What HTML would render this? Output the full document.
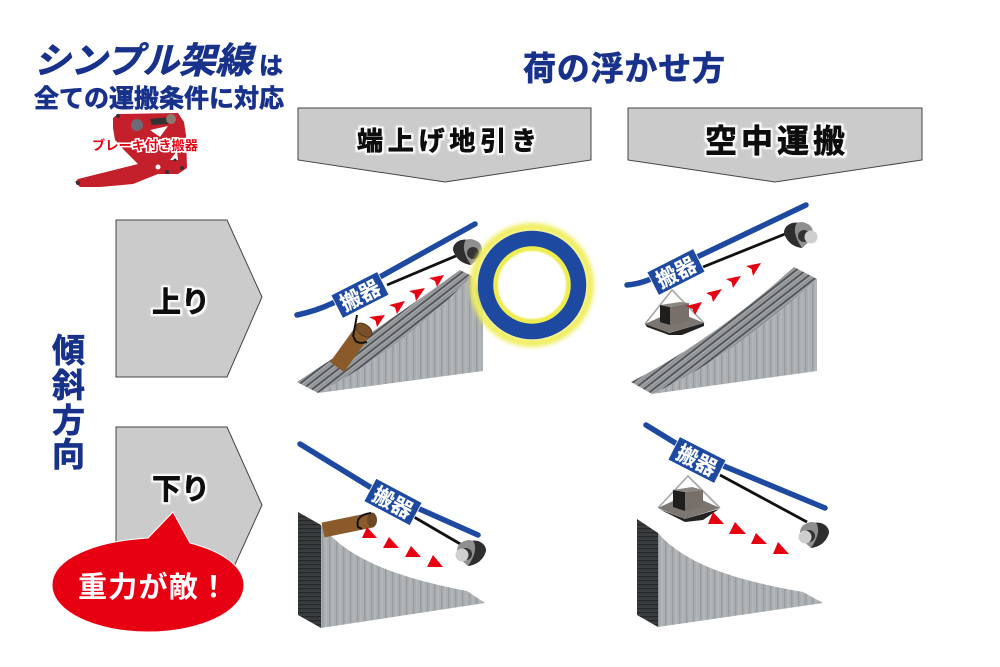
<!DOCTYPE html>
<html lang="ja">
<head>
<meta charset="utf-8">
<style>
html,body{margin:0;padding:0;background:#fff;width:1000px;height:667px;overflow:hidden}
svg{display:block}
text{font-family:"Liberation Sans","Noto Sans CJK JP",sans-serif;font-weight:700}
.navy{fill:#18328c;stroke:#18328c;stroke-width:.7}
.blk{fill:#0c0c0c;stroke:#0c0c0c;stroke-width:.9;filter:url(#halo)}
.car{fill:#fff;stroke:#fff;stroke-width:.2}
</style>
</head>
<body>
<svg width="1000" height="667" viewBox="0 0 1000 667" xmlns="http://www.w3.org/2000/svg">
<defs>
<pattern id="faceA" width="5" height="6" patternUnits="userSpaceOnUse" patternTransform="rotate(-38)">
<rect width="5" height="6" fill="#a2a5a8"/>
<rect y="0" width="5" height="2" fill="#55585a"/>
<rect y="3.8" width="5" height="1" fill="#85888a"/>
</pattern>
<pattern id="sideA" width="7" height="10" patternUnits="userSpaceOnUse">
<rect width="7" height="10" fill="#abafb1"/>
<rect x="0" width="1.3" height="10" fill="#989c9e"/>
<rect x="3.5" width="1" height="10" fill="#b8bcbe"/>
</pattern>
<pattern id="dark" width="8" height="4" patternUnits="userSpaceOnUse">
<rect width="8" height="4" fill="#3a3d3e"/>
<rect y="0" width="8" height="1.3" fill="#25282a"/>
</pattern>
<filter id="glow" x="-30%" y="-30%" width="160%" height="160%"><feGaussianBlur stdDeviation="2.2"/></filter>
<filter id="soft" x="-10%" y="-10%" width="120%" height="120%"><feGaussianBlur stdDeviation="0.8"/></filter>
<filter id="halo" x="-15%" y="-25%" width="130%" height="150%">
<feMorphology in="SourceAlpha" operator="dilate" radius="2" result="d"/>
<feGaussianBlur in="d" stdDeviation="0.7" result="b"/>
<feFlood flood-color="#fff"/>
<feComposite in2="b" operator="in" result="w"/>
<feMerge><feMergeNode in="w"/><feMergeNode in="SourceGraphic"/></feMerge>
</filter>
<g id="winch">
<path d="M-13,-2 Q-13,-9 -5,-12 L5,-13 Q16,-11 16,-2 L14,5 L5,13 Q-9,11 -13,-2 Z" fill="#8f8f8f"/>
<path d="M-13,-2 Q-13,-9 -5,-12 L0,-12.5 Q-6,-3 5,13 Q-9,11 -13,-2 Z" fill="#2e2e2e"/>
<circle cx="7" cy="1" r="6" fill="#333"/>
</g>
</defs>

<!-- Header texts -->
<text x="34" y="73" font-size="36" class="navy" font-style="italic" textLength="218" lengthAdjust="spacingAndGlyphs">シンプル架線</text>
<text x="259" y="74" font-size="24" class="navy">は</text>
<text x="34" y="107" font-size="25" class="navy" textLength="250" lengthAdjust="spacingAndGlyphs">全ての運搬条件に対応</text>
<text x="523" y="80" font-size="33" class="navy" textLength="202">荷の浮かせ方</text>

<!-- Gripper -->
<g>
<path d="M113,118 L118,114 L178,113 L184,122 L186,135 L187,168 L178,174 L158,174 L133,184 L100,187 L80,187 L75,182 L78,179 L138,164 L124,150 L115,140 L113,128 Z" fill="#c4202c"/>
<path d="M150,119 L170,117 L168,124 L152,125 Z" fill="#333"/>
<circle cx="171" cy="119" r="5" fill="#8a7a70"/>
<circle cx="137" cy="125" r="6" fill="#6a6a78"/>
<path d="M150,130 L168,126 L160,137 Z" fill="#fff"/>
<circle cx="158" cy="167" r="2.5" fill="#fff"/>
<path d="M170,160 L177,151 L178,160 Z" fill="#fff"/>
<circle cx="78" cy="183" r="2" fill="#333"/>
<circle cx="182" cy="168" r="2" fill="#333"/>
<circle cx="167" cy="172" r="2" fill="#333"/>
<circle cx="118" cy="116" r="2" fill="#333"/>
<circle cx="175" cy="160" r="1.5" fill="#333"/>
<text x="92" y="150" font-size="13" fill="#e60012" stroke="#fff" stroke-width="3" paint-order="stroke" textLength="106" lengthAdjust="spacingAndGlyphs">ブレーキ付き搬器</text>
</g>

<!-- Column heads -->
<polygon points="298,108 591,108 591,160 445,182 298,160" fill="#cbcbcb" stroke="#444" stroke-width="1"/>
<polygon points="628,108 922,108 922,160 775,182 628,160" fill="#cbcbcb" stroke="#444" stroke-width="1"/>
<text x="357" y="150" font-size="26" class="blk" textLength="180">端上げ地引き</text>
<text x="705" y="152" font-size="32" class="blk" textLength="140">空中運搬</text>

<!-- Row heads -->
<polygon points="116,220 227,220 262,297 227,377 116,377" fill="#cbcbcb" stroke="#444" stroke-width="1"/>
<polygon points="116,427 227,427 262,505 227,582 116,582" fill="#cbcbcb" stroke="#444" stroke-width="1"/>
<text x="152" y="312" font-size="29" class="blk" textLength="58">上り</text>
<text x="152" y="499" font-size="29" class="blk" textLength="58">下り</text>

<!-- Vertical label -->
<g font-size="33" class="navy">
<text x="52" y="362">傾</text>
<text x="52" y="397">斜</text>
<text x="52" y="432">方</text>
<text x="52" y="466">向</text>
</g>

<!-- Balloon -->
<path d="M148,538 L173,512 L190,543 C225,552 244,568 244,585 C244,612 200,632 148,632 C96,632 52,612 52,585 C52,558 96,541 148,538 Z" fill="#e60012" stroke="#fff" stroke-width="1"/>
<text x="78" y="597" font-size="29" fill="#fff" textLength="150">重力が敵！</text>

<!-- Panel 1 -->
<g>
<path d="M318,393 Q400,350 472,276 L483,300 L483,371 Z" fill="url(#sideA)"/>
<path d="M297,382 Q380,328 460,270 L472,276 Q400,350 318,393 Z" fill="url(#faceA)"/>
<line x1="337" y1="367" x2="363" y2="331" stroke="#8b5a2b" stroke-width="17"/>
<ellipse cx="364" cy="330" rx="9" ry="5.5" fill="#7a5028" stroke="#5a3a1c" stroke-width="1" transform="rotate(36 364 330)"/>
<path d="M354,337 Q355,345 367,342" fill="none" stroke="#111" stroke-width="2"/>
<line x1="357" y1="315" x2="353" y2="337" stroke="#111" stroke-width="2"/>
<path d="M297,315 Q316,311 333,303 L475,224" fill="none" stroke="#1d4aa0" stroke-width="5.5" stroke-linecap="round"/>
<line x1="387" y1="285" x2="470" y2="250" stroke="#111" stroke-width="2.8"/>
<use href="#winch" x="466" y="252"/>
<circle cx="532" cy="285" r="58" fill="none" stroke="#f0ee60" stroke-width="8" filter="url(#glow)"/>
<circle cx="532" cy="285" r="37" fill="none" stroke="#eeec50" stroke-width="6" filter="url(#soft)"/>
<circle cx="532" cy="285" r="46.5" fill="none" stroke="#1d4aa0" stroke-width="15.5"/>
<g transform="translate(360,295) rotate(-27)">
<rect x="-26" y="-13" width="52" height="26" fill="#1d4aa0" stroke="#fff" stroke-width="0.8"/>
<text x="0" y="8" font-size="21" class="car" text-anchor="middle">搬器</text>
</g>
<g fill="#e60012">
<polygon points="369,317 385,315 377,327 375.5,320.5"/>
<polygon points="389,305 405,301 397,314 395,307.5"/>
<polygon points="409,291 425,288 416,301 414.5,294"/>
<polygon points="429,278 444,275 437,287 435,281"/>
</g>
</g>

<!-- Panel 2 -->
<g>
<path d="M652,394 Q730,358 817,279 L817,371 Z" fill="url(#sideA)"/>
<path d="M631,382 Q713,340 794,267 L817,279 Q730,358 652,394 Z" fill="url(#faceA)"/>
<path d="M627,285 Q640,284 653,278 L806,205" fill="none" stroke="#1d4aa0" stroke-width="5.5" stroke-linecap="round"/>
<line x1="703" y1="267" x2="790" y2="232" stroke="#111" stroke-width="2.8"/>
<use href="#winch" x="797" y="235"/>
<circle cx="811" cy="237" r="6.5" fill="#cfcfcf"/>
<path d="M645,324 L672,290 L704,323" fill="none" stroke="#a5a5a5" stroke-width="1.6"/>
<path d="M645,324 L668,333 L704,323 L685,315 L665,315 Z" fill="#7b7672"/>
<path d="M645,324 L669,333 L704,323 L704,326 L682,335 L669,335 L647,327 Z" fill="#222"/>
<polygon points="660,305 670,307 670,325 660,322" fill="#1e1e1e"/>
<polygon points="670,307 689,303 689,321 670,325" fill="#77706a"/>
<polygon points="660,305 680,302 689,303 670,307" fill="#8a8580"/>
<g transform="translate(676,272) rotate(-27)">
<rect x="-26" y="-13" width="52" height="26" fill="#1d4aa0" stroke="#fff" stroke-width="0.8"/>
<text x="0" y="8" font-size="21" class="car" text-anchor="middle">搬器</text>
</g>
<g fill="#e60012">
<polygon points="686,306 702,302 695,315 692.5,309"/>
<polygon points="706,293 722,289 713,302 711.5,296"/>
<polygon points="726,279 741,276 733,288 731.5,282"/>
<polygon points="746,266 761,263 753,276 751.5,269"/>
</g>
</g>

<!-- Panel 3 -->
<g>
<polygon points="298,512 321,525 321,628 298,615" fill="url(#dark)"/>
<path d="M321,525 C345,555 385,575 467,591 L485,603 L321,628 Z" fill="url(#sideA)"/>
<line x1="323" y1="530" x2="372" y2="520" stroke="#8b5a2b" stroke-width="15"/>
<ellipse cx="372" cy="520" rx="5" ry="7.5" fill="#6e4824"/>
<path d="M371,513 Q355,515 358,527 L362,529" fill="none" stroke="#111" stroke-width="2"/>
<path d="M300,444 L370,487 L478,535" fill="none" stroke="#1d4aa0" stroke-width="5.5" stroke-linecap="round"/>
<line x1="414" y1="517" x2="462" y2="545" stroke="#111" stroke-width="2.8"/>
<g transform="translate(473,553) scale(-1,1)"><use href="#winch"/></g>
<circle cx="462" cy="555" r="6.5" fill="#cfcfcf"/>
<g transform="translate(393,502) rotate(28)">
<rect x="-26" y="-13" width="52" height="26" fill="#1d4aa0" stroke="#fff" stroke-width="0.8"/>
<text x="0" y="8" font-size="21" class="car" text-anchor="middle">搬器</text>
</g>
<g fill="#e60012">
<polygon points="362,538 377,538 367,527"/>
<polygon points="383,548 399,548 389,537"/>
<polygon points="405,557 421,557 411,546"/>
<polygon points="427,567 443,567 433,555"/>
</g>
</g>

<!-- Panel 4 -->
<g>
<polygon points="637,519 658,533 658,627 637,615" fill="url(#dark)"/>
<path d="M658,533 C682,560 722,578 803,592 L823,603 L658,627 Z" fill="url(#sideA)"/>
<path d="M646,425 L690,452 L825,508" fill="none" stroke="#1d4aa0" stroke-width="5.5" stroke-linecap="round"/>
<line x1="720" y1="475" x2="807" y2="522" stroke="#111" stroke-width="2.8"/>
<g transform="translate(816,535) scale(-1,1)"><use href="#winch"/></g>
<circle cx="805" cy="537" r="6.5" fill="#cfcfcf"/>
<path d="M658,508 L688,476 L720,508" fill="none" stroke="#a5a5a5" stroke-width="1.6"/>
<path d="M658,508 L685,519 L720,508 L700,499 L675,500 Z" fill="#7b7672"/>
<path d="M659,509 L685,519 L719,509 L703,520 L685,522 Z" fill="#222"/>
<polygon points="673,490 685,492 685,511 673,507" fill="#1e1e1e"/>
<polygon points="685,492 703,490 703,507 685,511" fill="#77706a"/>
<polygon points="673,490 692,487 703,490 685,492" fill="#8a8580"/>
<g transform="translate(697,460) rotate(27)">
<rect x="-26" y="-13" width="52" height="26" fill="#1d4aa0" stroke="#fff" stroke-width="0.8"/>
<text x="0" y="8" font-size="21" class="car" text-anchor="middle">搬器</text>
</g>
<g fill="#e60012">
<polygon points="708,524 724,524 713,512"/>
<polygon points="729,534 746,534 735,522"/>
<polygon points="751,544 767,544 756,533"/>
<polygon points="773,554 789,554 778,542"/>
</g>
</g>
</svg>
</body>
</html>
